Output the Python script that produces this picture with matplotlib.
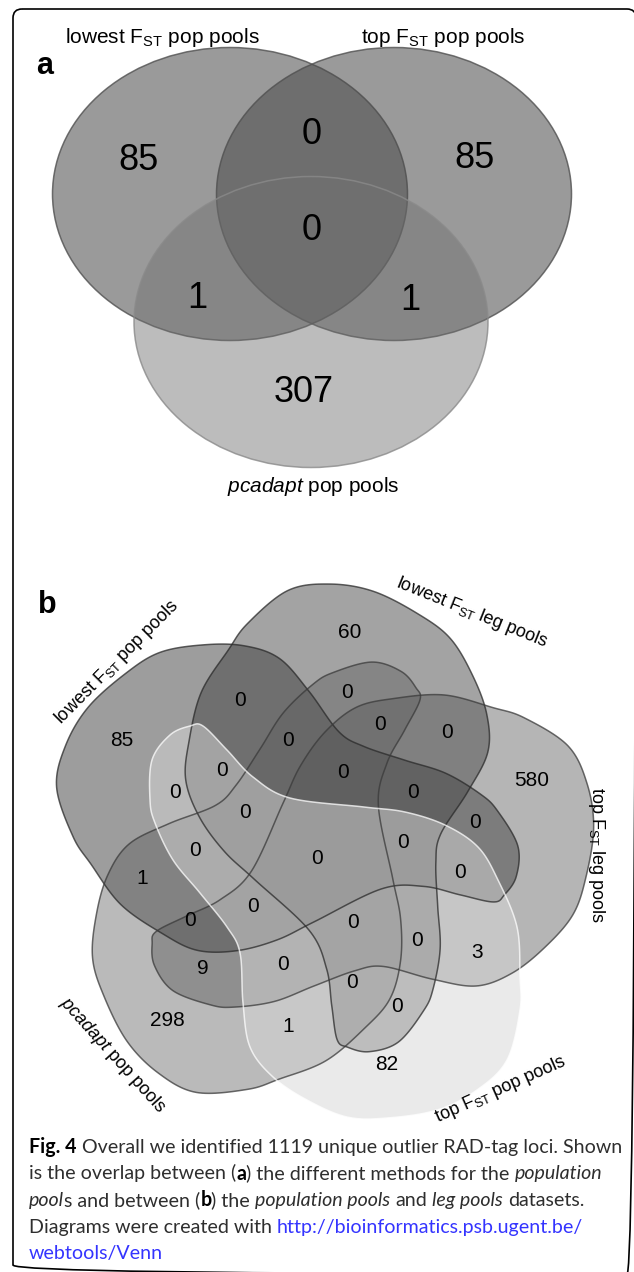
import numpy as np
import matplotlib.pyplot as plt
from matplotlib.patches import Ellipse, PathPatch, FancyBboxPatch
from matplotlib.path import Path

plt.rcParams['font.family'] = 'Liberation Sans'
plt.rcParams['mathtext.fontset'] = 'custom'
plt.rcParams['mathtext.rm'] = 'Liberation Sans'
plt.rcParams['mathtext.it'] = 'Liberation Sans:italic'
plt.rcParams['mathtext.bf'] = 'Liberation Sans:bold'

# ---- data -------------------------------------------------------------
# panel a: population pools, 3 sets
a_names = [r"lowest F$_{\mathrm{ST}}$ pop pools",
           r"top F$_{\mathrm{ST}}$ pop pools",
           r"$\mathit{pcadapt}$ pop pools"]
a_regions = [(0,), (1,), (2,), (0, 1), (0, 2), (1, 2), (0, 1, 2)]
a_counts = [85, 85, 307, 0, 1, 1, 0]

# panel b: population pools + leg pools, 5 sets
b_names = [r"lowest F$_{\mathrm{ST}}$ pop pools",
           r"lowest F$_{\mathrm{ST}}$ leg pools",
           r"top F$_{\mathrm{ST}}$ leg pools",
           r"top F$_{\mathrm{ST}}$ pop pools",
           r"$\mathit{pcadapt}$ pop pools"]
# every region not listed here holds 0
b_regions = [(0,), (1,), (2,), (3,), (4,), (0, 4), (2, 4), (3, 4), (2, 3)]
b_counts = [85, 60, 580, 82, 298, 1, 9, 1, 3]

# ---- layout -----------------------------------------------------------
W, H = 634, 1272
fig = plt.figure(figsize=(W / 100, H / 100), dpi=100)
ax = fig.add_axes([0, 0, 1, 1])
ax.set_xlim(0, W)
ax.set_ylim(H, 0)
ax.axis('off')

frame = FancyBboxPatch((13, 9), 623, 1265, boxstyle="round,pad=0,rounding_size=9",
                       fc='none', ec='black', lw=1.2)
ax.add_patch(frame)


def code_of(sets):
    return sum(1 << i for i in sets)


def put_counts(paths, spots, regions, counts, size):
    """write the count of the region each spot falls in"""
    lookup = {code_of(r): v for r, v in zip(regions, counts)}
    pts = np.asarray(spots, float)
    code = np.zeros(len(pts), int)
    for i, p in enumerate(paths):
        code |= p.contains_points(pts).astype(int) << i
    for (x, y), c in zip(pts, code):
        if c:
            ax.text(x, y, str(lookup.get(c, 0)), fontsize=size,
                    ha='center', va='center')


# ---- panel a ----------------------------------------------------------
a_ell = [((230, 194), 355, 293, '#4c4c4c', 0.56, '#505050'),
         ((394, 194), 355, 293, '#4c4c4c', 0.56, '#505050'),
         ((311, 322), 354, 291, '#717171', 0.47, '#8a8a8a')]
a_paths = []
for (cxy, w, h, fc, al, ec) in a_ell:
    e = Ellipse(cxy, w, h, fc=fc, alpha=al, ec='none')
    ax.add_patch(e)
    ax.add_patch(Ellipse(cxy, w, h, fc='none', ec=ec, lw=1.1, alpha=0.8))
    a_paths.append(e.get_patch_transform().transform_path(e.get_path()))

# where the counts are written, one spot per region
a_spots = [(139, 160), (475, 158), (304, 393), (312, 134),
           (197, 298), (410, 300), (312, 231)]
put_counts(a_paths, a_spots, a_regions, a_counts, 26)

ax.text(162, 43, a_names[0], fontsize=15, ha='center', va='baseline')
ax.text(443, 43, a_names[1], fontsize=15, ha='center', va='baseline')
ax.text(313, 492, a_names[2], fontsize=15, ha='center', va='baseline')
ax.text(36, 74, 'a', fontsize=22, fontweight='bold', ha='left', va='baseline')

# ---- panel b ----------------------------------------------------------
# outline of one petal (relative to the diagram centre, y up); the other
# four are the same outline turned in steps of about 72 degrees
BLOB = np.array([
    (199, -116), (199, -149), (186, -199), (156, -229), (116, -249),
    (66, -257), (26, -256), (-14, -239), (-48, -216), (-71, -186),
    (-78, -142), (-81, -92), (-94, -66), (-121, -32), (-148, 1),
    (-166, 38), (-171, 61), (-169, 101), (-151, 126), (-131, 135),
    (-118, 135), (-94, 111), (-68, 84), (-31, 63), (43, 54),
    (84, 49), (124, 36), (157, 14), (177, -19), (196, -66)], float)


def smooth_closed(P, n=16):
    out = []
    m = len(P)
    t = np.linspace(0, 1, n, endpoint=False)[:, None]
    for i in range(m):
        p0, p1, p2, p3 = P[i - 1], P[i], P[(i + 1) % m], P[(i + 2) % m]
        out.append(0.5 * (2 * p1 + (-p0 + p2) * t
                          + (2 * p0 - 5 * p1 + 4 * p2 - p3) * t ** 2
                          + (-p0 + 3 * p1 - 3 * p2 + p3) * t ** 3))
    return np.vstack(out)


CX, CY = 321, 861
blob = smooth_closed(BLOB)
b_rot = [213, 144, 72, 0, 288]
b_shift = [(0, -8), (0, 0), (0, 0), (0, 0), (7, -7)]
b_fc = ['#3c3c3c', '#3c3c3c', '#505050', '#d7d7d7', '#5f5f5f']
b_alpha = [0.5, 0.47, 0.42, 0.5, 0.43]
b_ec = ['#2a2a2a', '#2a2a2a', '#3a3a3a', '#ffffff', '#3a3a3a']
draw_order = [0, 1, 2, 4, 3]

b_paths = []
for k in range(5):
    th = np.deg2rad(b_rot[k])
    xr = blob[:, 0] * np.cos(th) - blob[:, 1] * np.sin(th)
    yr = blob[:, 0] * np.sin(th) + blob[:, 1] * np.cos(th)
    verts = np.column_stack([CX + xr + b_shift[k][0], CY - yr + b_shift[k][1]])
    verts = np.vstack([verts, verts[:1]])
    b_paths.append(Path(verts, closed=True))

for k in draw_order:
    ax.add_patch(PathPatch(b_paths[k], fc=b_fc[k], alpha=b_alpha[k], ec='none'))
for k in draw_order:
    ax.add_patch(PathPatch(b_paths[k], fc='none', ec=b_ec[k], lw=1.1, alpha=0.75))

b_spots = [(122, 740), (350, 633), (532, 780), (387, 1065), (167, 1020),
           (142, 878), (203, 968), (288, 1027), (477, 952),
           (240, 700), (288, 740), (222, 770), (175, 792), (245, 812),
           (195, 850), (317, 858), (347, 693), (380, 725), (447, 733),
           (343, 772), (413, 792), (475, 823), (403, 842), (253, 907),
           (190, 920), (283, 965), (460, 873), (353, 922), (417, 940),
           (352, 982), (397, 1007)]
put_counts(b_paths, b_spots, b_regions, b_counts, 15)

b_label_pos = [(117, 662, 45), (472, 613, -22), (597, 855, -90),
               (501, 1089, 24), (113, 1055, -48)]
for name, (x, y, r) in zip(b_names, b_label_pos):
    ax.text(x, y, name, fontsize=13, rotation=r, rotation_mode='anchor',
            ha='center', va='center')
ax.text(38, 613, 'b', fontsize=22, fontweight='bold', ha='left', va='baseline')

# ---- caption ----------------------------------------------------------
CAP_FONT = 'Lato'
LINK = '#3434ff'
TXT = '#2e2e2e'
caption = [
    [("Fig. 4", 'b'), (" Overall we identified 1119 unique outlier RAD-tag loci. Shown", 'n')],
    [("is the overlap between (", 'n'), ("a", 'b'), (") the different methods for the ", 'n'),
     ("population", 'i')],
    [("pool", 'i'), ("s and between (", 'n'), ("b", 'b'), (") the ", 'n'),
     ("population pools", 'i'), (" and ", 'n'), ("leg pools", 'i'), (" datasets.", 'n')],
    [("Diagrams were created with ", 'n'), ("http://bioinformatics.psb.ugent.be/", 'l')],
    [("webtools/Venn", 'l')],
]
renderer = fig.canvas.get_renderer()


def style_kw(style, size):
    kw = dict(family=CAP_FONT, fontsize=size, color=TXT)
    if style == 'b':
        kw.update(weight='bold', color='black')
    elif style == 'i':
        kw['style'] = 'italic'
    elif style == 'l':
        kw['color'] = LINK
    return kw


def measure(s, style, size):
    t = ax.text(0, 0, 'I' + s + 'I', **style_kw(style, size))
    w1 = t.get_window_extent(renderer).width
    t.set_text('II')
    w0 = t.get_window_extent(renderer).width
    t.remove()
    return w1 - w0


line_w = sum(measure(s, st, 10) for s, st in caption[0])
cap_size = 10 * 591 / line_w

y = 1153
for line in caption:
    x = 29
    for s, st in line:
        lead = len(s) - len(s.lstrip(' '))
        off = measure(' ' * lead, st, cap_size) if lead else 0
        ax.text(x + off, y, s.strip(' '), va='baseline', ha='left', **style_kw(st, cap_size))
        x += measure(s, st, cap_size)
    y += 26.5

fig.savefig('out.png', dpi=100)
